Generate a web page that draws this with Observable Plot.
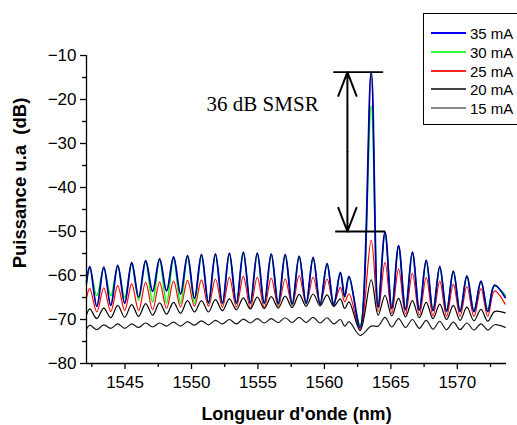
<!DOCTYPE html>
<html><head><meta charset="utf-8">
<script src="https://cdn.jsdelivr.net/npm/d3@7"></script>
<script src="https://cdn.jsdelivr.net/npm/@observablehq/plot@0.6"></script>
<style>
html,body{margin:0;padding:0;background:#fff;}
body{width:517px;height:425px;overflow:hidden;position:relative;font-family:"Liberation Sans",Arial,sans-serif;}
#chart{position:absolute;left:0;top:0;}
#legend{position:absolute;left:423px;top:13px;width:110px;height:112px;border:1px solid #000;background:#fff;box-sizing:border-box;}
.row{position:absolute;left:0;height:18px;display:flex;align-items:center;font-size:15px;color:#000;white-space:nowrap;}
.sw{display:inline-block;width:35px;height:1.5px;margin-left:7px;margin-right:4px;}
</style></head>
<body>
<div id="chart"></div>
<div id="legend"></div>
<script>
// ---- data ----
const xDomain = [1542.1, 1573.7];
const yDomain = [-80, -10];
const xTicks = [1545, 1550, 1555, 1560, 1565, 1570];
const xMinor = [1542.5, 1547.5, 1552.5, 1557.5, 1562.5, 1567.5, 1572.5];
const yTicks = [-80, -70, -60, -50, -40, -30, -20, -10];
const yMinor = [-75, -65, -55, -45, -35, -25, -15];

// wavelengths of the longitudinal modes (nm)
const modes = [1542.35, 1543.40, 1544.45, 1545.50, 1546.55, 1547.60, 1548.65, 1549.70, 1550.75, 1551.80,
  1552.85, 1553.90, 1554.95, 1556.00, 1557.05, 1558.10, 1559.15, 1560.20, 1561.20, 1561.85,
  1563.52, 1564.56, 1565.58, 1566.62, 1567.66, 1568.68, 1569.70, 1570.72, 1571.78, 1572.80];
const edges = [1542.1, 1573.6];

// mode peak levels (dB) and levels between modes (first/last = plot edges)
const peaks35 = [-58.0, -58.1, -57.7, -57.1, -56.6, -56.2, -55.8, -55.5, -55.2, -55.1, -54.9, -54.7, -54.9, -55.1, -55.2, -55.6, -55.9, -57.3, -59.3, -60.2, -13.8, -50.1, -53.2, -54.7, -56.5, -58.0, -59.0, -60.1, -61.3, -62.2];
const troughs35 = [-61.5, -67.0, -66.8, -66.3, -64.9, -63.6, -63.5, -64.2, -65.2, -66.2, -66.3, -66.3, -66.3, -66.3, -66.4, -66.5, -66.3, -66.5, -66.7, -64.8, -71.8, -67.2, -67.5, -67.8, -67.9, -68.0, -68.2, -68.2, -68.2, -68.2, -65.0];

const peaks30 = [-58.3, -58.4, -58.0, -57.5, -57.0, -56.6, -56.2, -55.9, -55.6, -55.4, -55.2, -55.0, -55.2, -55.4, -55.5, -55.8, -56.2, -57.6, -59.5, -60.5, -21.5, -50.5, -53.5, -55.0, -56.8, -58.3, -59.3, -60.4, -61.5, -62.4];
const troughs30 = [-62.0, -64.6, -64.6, -65.0, -65.6, -66.0, -66.3, -66.3, -66.3, -66.4, -66.5, -66.5, -66.5, -66.5, -66.6, -66.6, -66.5, -66.5, -66.6, -65.0, -71.2, -67.0, -67.3, -67.5, -67.6, -67.8, -67.8, -67.8, -67.8, -67.6, -64.5];

const peaks25 = [-63.0, -62.8, -62.3, -61.9, -61.5, -61.5, -61.3, -61.1, -61.0, -60.8, -60.4, -60.2, -60.4, -60.6, -60.8, -60.0, -60.4, -60.8, -62.7, -64.2, -52.0, -57.0, -58.5, -59.5, -60.5, -61.3, -62.0, -62.5, -63.0, -63.5];
const troughs25 = [-65.0, -68.3, -68.2, -68.0, -68.0, -67.8, -67.5, -67.2, -67.0, -67.0, -67.2, -67.2, -67.4, -67.3, -67.0, -66.8, -66.5, -66.5, -66.3, -66.0, -72.2, -68.2, -68.6, -68.8, -69.0, -69.2, -69.3, -69.3, -69.3, -69.3, -66.5];

const peaks20 = [-67.6, -67.4, -66.8, -66.6, -66.4, -66.2, -66.1, -65.7, -65.7, -65.5, -65.3, -65.1, -64.9, -64.8, -64.7, -64.3, -64.2, -64.4, -65.3, -66.0, -61.0, -64.5, -65.2, -65.7, -66.1, -66.5, -66.8, -67.2, -67.7, -68.2];
const troughs20 = [-69.0, -69.8, -69.6, -69.5, -69.3, -69.0, -68.8, -68.6, -68.3, -68.3, -68.0, -67.8, -67.6, -67.5, -67.4, -67.3, -67.0, -66.9, -67.0, -67.5, -72.5, -69.0, -69.2, -69.4, -69.6, -69.8, -70.0, -70.2, -70.3, -70.4, -68.5];

const peaks15 = [-71.3, -71.2, -71.0, -71.0, -70.8, -70.8, -70.6, -70.5, -70.3, -70.2, -70.0, -69.9, -69.8, -69.8, -69.6, -69.5, -69.5, -69.6, -70.0, -70.5, -71.5, -69.5, -69.8, -70.0, -70.2, -70.4, -70.6, -70.8, -71.0, -71.2];
const troughs15 = [-72.2, -72.3, -72.0, -72.0, -71.8, -71.7, -71.5, -71.5, -71.3, -71.2, -71.0, -71.0, -70.8, -70.8, -70.7, -70.7, -70.7, -70.8, -71.0, -71.5, -73.6, -71.5, -71.7, -71.8, -72.0, -72.2, -72.3, -72.3, -72.4, -72.4, -71.8];

const seriesNames = ["35 mA", "30 mA", "25 mA", "20 mA", "15 mA"];
const seriesColors = ["#0000ff", "#00ff00", "#ff0000", "#000000", "#1a1a1a"];
const legendColors = ["#0000ff", "#33ff33", "#ff2020", "#444444", "#888888"];

// SMSR annotation
const smsrTop = -13.8;
const smsrBottom = -50;
const smsrArrowX = 1561.73;
const smsrBracketTop = [1560.70, 1564.46];
const smsrBracketBottom = [1560.85, 1564.61];
const smsrLabel = "36 dB SMSR";
const smsrLabelPos = [1555.35, -21.0];

const xLabel = "Longueur d'onde (nm)";
const yLabel = "Puissance u.a\u00a0\u00a0(dB)";

// ---- build traces ----
function trace(peaks, troughs) {
  const pts = [];
  for (let i = 0; i <= modes.length; i++) {
    const tx = i === 0 ? edges[0] : i === modes.length ? edges[1] : (modes[i - 1] + modes[i]) / 2;
    pts.push({x: tx, y: troughs[i]});
    if (i < modes.length) pts.push({x: modes[i], y: peaks[i]});
  }
  return pts;
}
const traces = [
  trace(peaks35, troughs35), trace(peaks30, troughs30), trace(peaks25, troughs25),
  trace(peaks20, troughs20), trace(peaks15, troughs15)
];

const fmtY = d => d < 0 ? "\u2212" + Math.abs(d) : String(d);
const midY = (smsrTop + smsrBottom) / 2;

const marks = [];
marks.push(Plot.line(traces[2], {x: "x", y: "y", stroke: seriesColors[2], strokeWidth: 1.2, curve: "catmull-rom"}));
marks.push(Plot.line(traces[1], {x: "x", y: "y", stroke: seriesColors[1], strokeWidth: 1.5, curve: "catmull-rom"}));
marks.push(Plot.line(traces[0], {x: "x", y: "y", stroke: seriesColors[0], strokeWidth: 1.8, curve: "catmull-rom"}));
// dark core drawn over the blue trace
marks.push(Plot.line(traces[0], {x: "x", y: "y", stroke: "#000", strokeWidth: 0.6, curve: "catmull-rom"}));
marks.push(Plot.line(traces[3], {x: "x", y: "y", stroke: seriesColors[3], strokeWidth: 1.2, curve: "catmull-rom"}));
marks.push(Plot.line(traces[4], {x: "x", y: "y", stroke: seriesColors[4], strokeWidth: 1.2, curve: "catmull-rom"}));

const chart = Plot.plot({
  width: 517, height: 425,
  marginLeft: 86, marginRight: 11, marginTop: 55, marginBottom: 62,
  style: {fontFamily: '"Liberation Sans", Arial, sans-serif', fontSize: "17px", color: "#000", background: "#fff", overflow: "visible"},
  x: {domain: xDomain},
  y: {domain: yDomain},
  marks: [
    ...marks,
    Plot.ruleX([xDomain[0]], {stroke: "#000", strokeWidth: 1.3}),
    Plot.ruleY([yDomain[0]], {stroke: "#000", strokeWidth: 1.3}),
    Plot.axisX({ticks: xMinor, tickSize: 4, tickFormat: () => "", label: null, strokeWidth: 1.3}),
    Plot.axisX({ticks: xTicks, tickSize: 6, tickPadding: 6, tickFormat: d => String(d), label: null, strokeWidth: 1.3, fontSize: 17}),
    Plot.axisY({ticks: yMinor, tickSize: 4, tickFormat: () => "", label: null, strokeWidth: 1.3}),
    Plot.axisY({ticks: yTicks, tickSize: 6, tickPadding: 4, tickFormat: fmtY, label: null, strokeWidth: 1.3, fontSize: 17}),
    Plot.ruleY([{y: smsrTop, x1: smsrBracketTop[0], x2: smsrBracketTop[1]}, {y: smsrBottom, x1: smsrBracketBottom[0], x2: smsrBracketBottom[1]}],
      {y: "y", x1: "x1", x2: "x2", stroke: "#000", strokeWidth: 1.8}),
    Plot.arrow([{a: midY, b: smsrTop}, {a: midY, b: smsrBottom}],
      {x1: () => smsrArrowX, x2: () => smsrArrowX, y1: "a", y2: "b", stroke: "#000", strokeWidth: 2, headLength: 19, headAngle: 42}),
    Plot.text([smsrLabel], {x: () => smsrLabelPos[0], y: () => smsrLabelPos[1], text: d => d,
      fontFamily: '"Liberation Serif", "Times New Roman", serif', fontSize: 21, fill: "#000"}),
    Plot.text([xLabel], {text: d => d, frameAnchor: "bottom", lineAnchor: "middle", dy: 51, fontWeight: "bold", fontSize: 18, fill: "#000"}),
    Plot.text([yLabel], {text: d => d, frameAnchor: "left", lineAnchor: "middle", textAnchor: "middle", rotate: -90, dx: -66, dy: -26.5, fontWeight: "bold", fontSize: 18.5, fill: "#000"})
  ]
});
document.getElementById("chart").appendChild(chart);

// legend
const legend = document.getElementById("legend");
const rowTops = [10, 29, 48, 66, 85];
seriesNames.forEach((name, i) => {
  const row = document.createElement("div");
  row.className = "row";
  row.style.top = rowTops[i] + "px";
  const sw = document.createElement("span");
  sw.className = "sw";
  sw.style.background = legendColors[i];
  row.appendChild(sw);
  row.appendChild(document.createTextNode(name));
  legend.appendChild(row);
});
</script>
</body></html>
